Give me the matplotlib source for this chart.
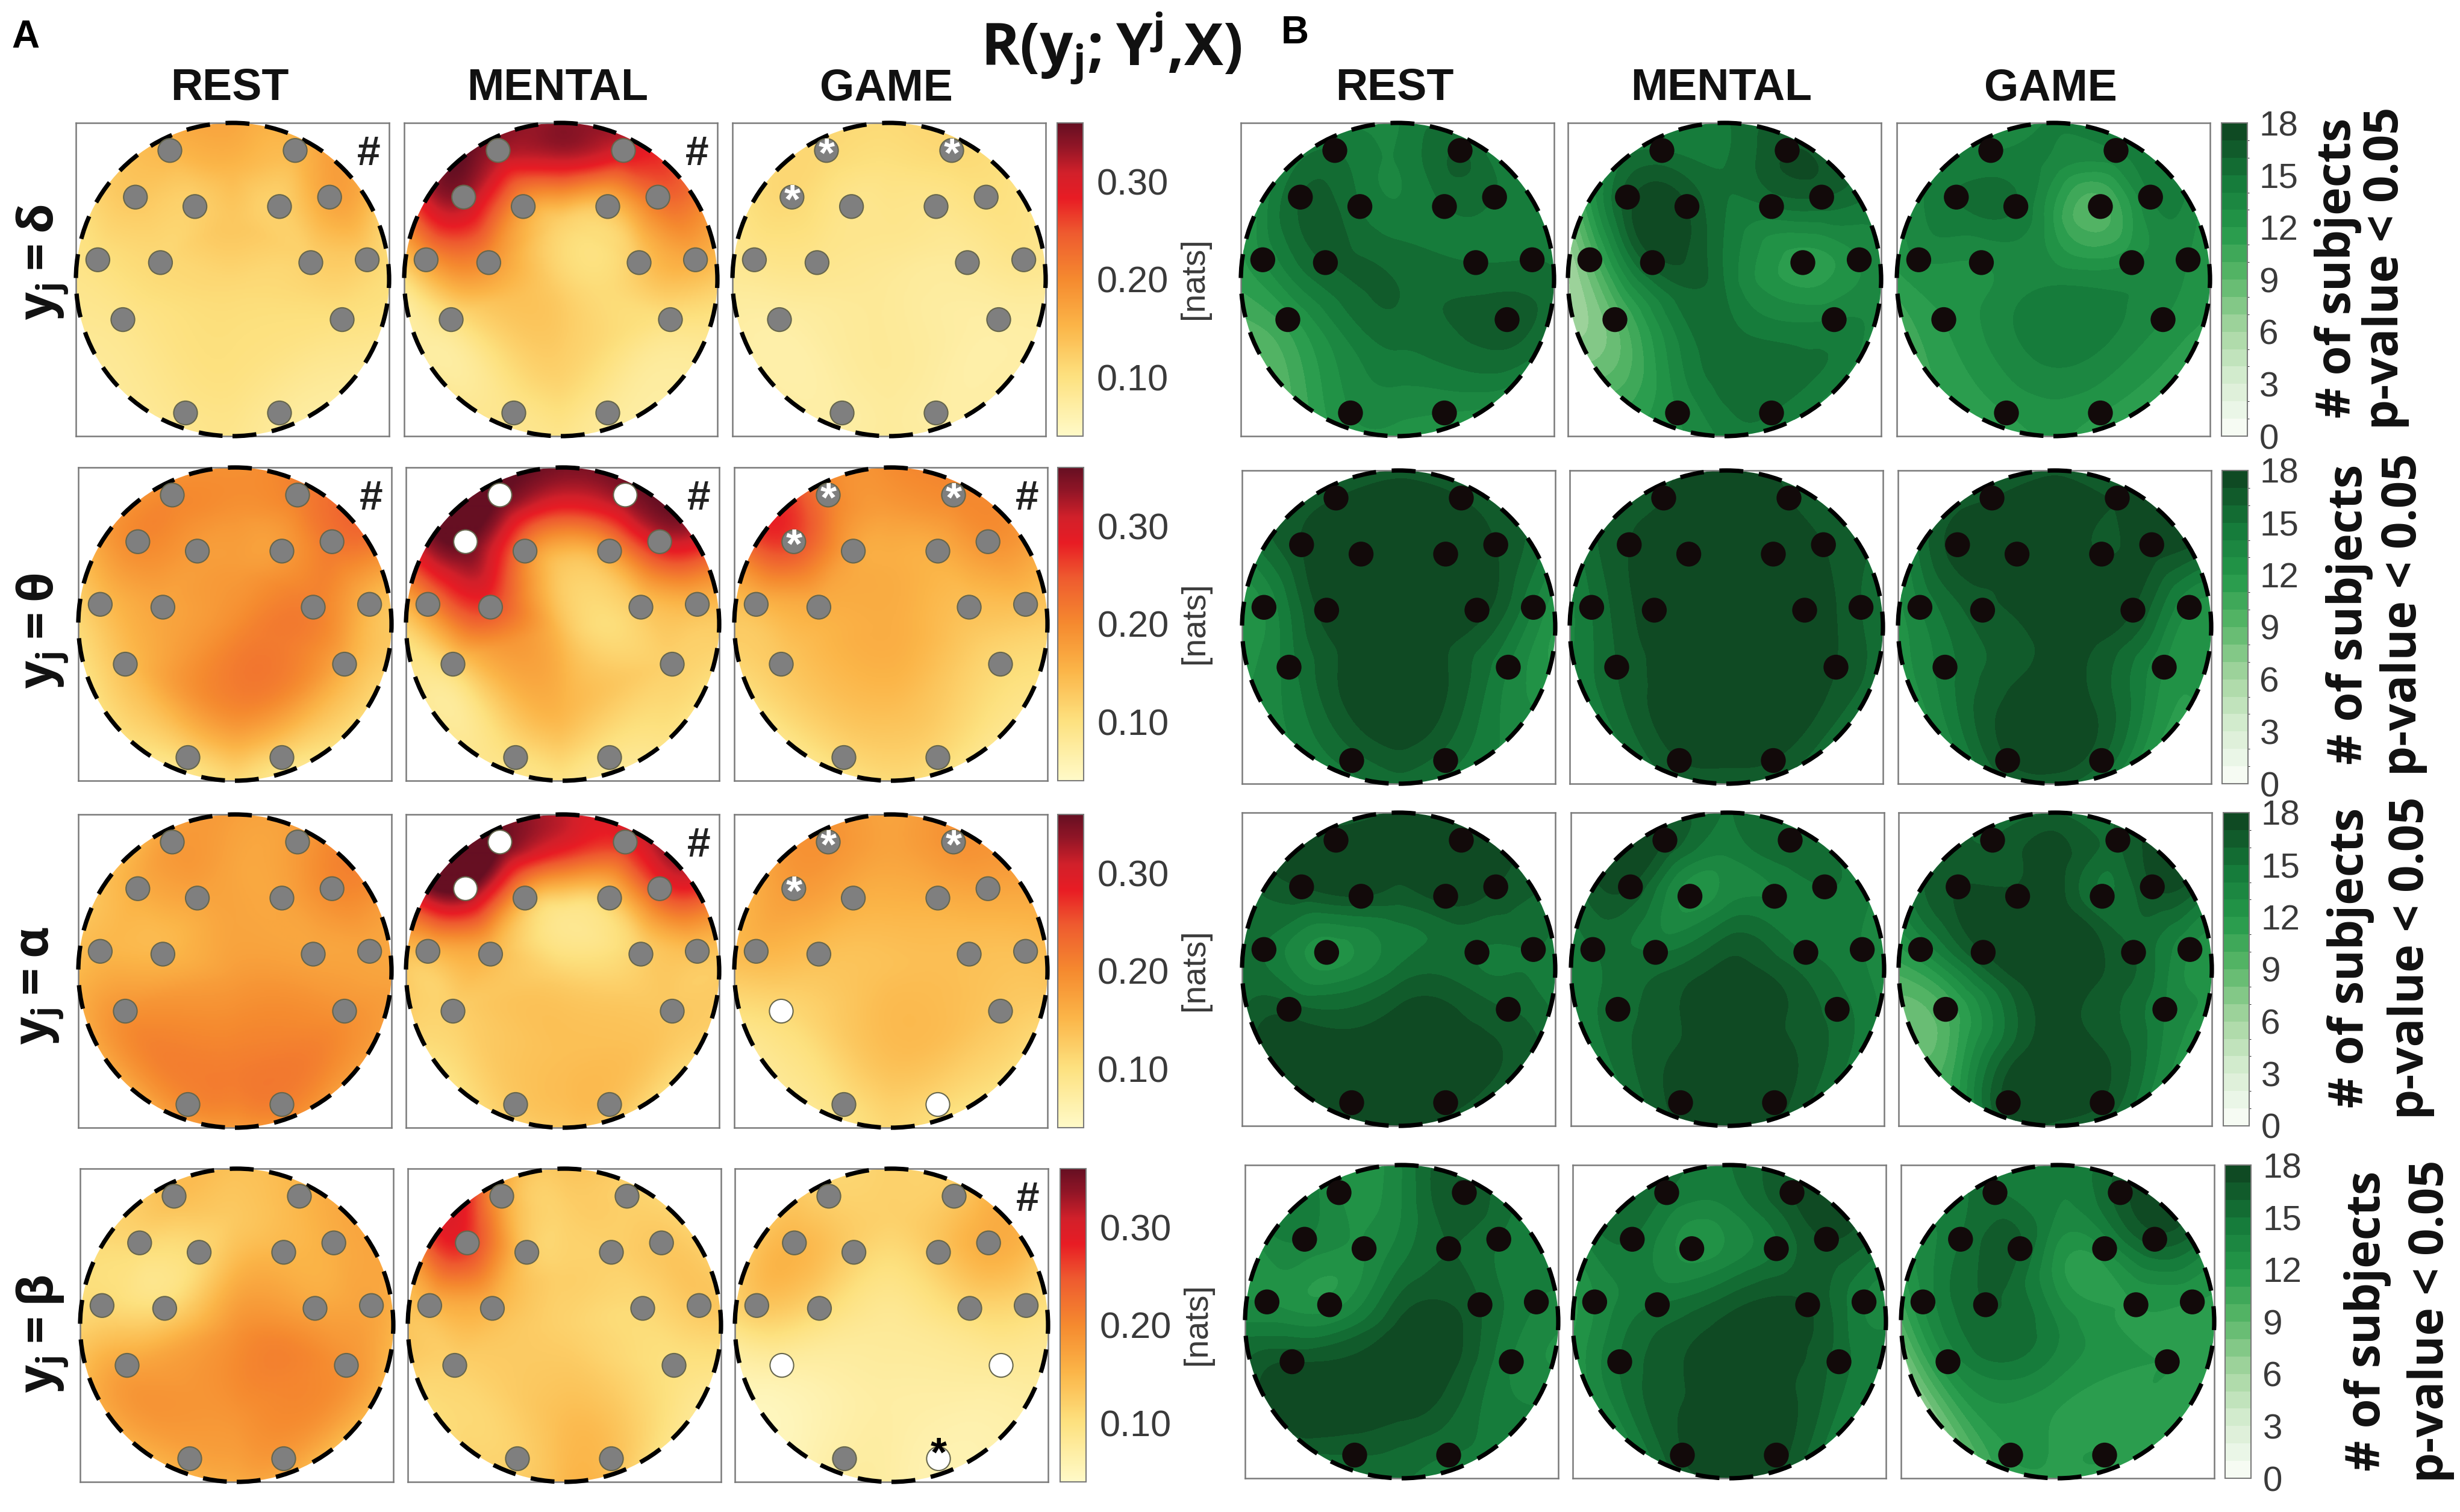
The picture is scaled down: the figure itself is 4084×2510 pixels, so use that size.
import matplotlib
matplotlib.use('Agg')
import matplotlib.pyplot as plt
import matplotlib.tri as tri
import numpy as np
from matplotlib.colors import LinearSegmentedColormap, BoundaryNorm, Normalize
from matplotlib.patches import Circle

W, H = 4084, 2510

plt.rcParams['font.family'] = ['Liberation Sans', 'DejaVu Sans']
plt.rcParams['mathtext.fontset'] = 'custom'
plt.rcParams['mathtext.rm'] = 'Open Sans:bold'
plt.rcParams['mathtext.it'] = 'Open Sans:bold'
plt.rcParams['mathtext.bf'] = 'Open Sans:bold'

# Electrodes AF3 AF4 F7 F8 F3 F4 T7 T8 FC5 FC6 P7 P8 O1 O2, in box fractions
ELEC_X = [.30, .70, .19, .81, .38, .65, .07, .93, .27, .75, .15, .85, .35, .65]
ELEC_Y = [.912, .912, .763, .763, .733, .733, .563, .563, .554, .554, .372, .372, .074, .074]

# Sample sites: 14 electrodes, 12 on the rim (clockwise from the top), 4 on the midline
RIM_ANGLES = [90, 60, 30, 0, -30, -60, -90, -120, -150, 180, 150, 120]
MID_Y = [.86, .68, .48, .22]

CONDITIONS = ['REST', 'MENTAL', 'GAME']
BANDS = ['δ', 'θ', 'α', 'β']

# Panel A, R(yj;Yj,X) in nats
R_DELTA_REST = [.15, .15, .13, .17, .12, .12, .10, .12, .11, .12, .09, .10, .09, .08,
                .17, .17, .13, .10, .08, .07, .09, .08, .08, .09, .11, .15, .15, .13, .11, .10]
R_DELTA_MENTAL = [.33, .30, .33, .23, .18, .14, .18, .16, .19, .13, .10, .10, .09, .08,
                  .33, .30, .20, .12, .08, .07, .09, .09, .08, .08, .28, .36, .29, .12, .12, .12]
R_DELTA_GAME = [.11, .11, .11, .10, .09, .09, .09, .09, .09, .08, .07, .07, .07, .07,
                .11, .11, .09, .08, .07, .07, .08, .07, .07, .08, .10, .11, .10, .09, .08, .08]
R_THETA_REST = [.20, .21, .20, .22, .18, .18, .14, .15, .17, .21, .14, .16, .11, .11,
                .19, .22, .22, .13, .10, .08, .10, .08, .09, .10, .16, .18, .19, .18, .20, .20]
R_THETA_MENTAL = [.36, .34, .36, .30, .21, .18, .20, .15, .26, .13, .12, .12, .10, .09,
                  .36, .36, .29, .13, .09, .08, .09, .09, .09, .11, .32, .36, .27, .13, .14, .15]
R_THETA_GAME = [.21, .20, .26, .19, .17, .16, .15, .14, .16, .14, .13, .11, .11, .11,
                .20, .20, .17, .12, .09, .08, .10, .08, .09, .13, .24, .23, .18, .16, .16, .14]
R_ALPHA_REST = [.18, .18, .16, .20, .17, .17, .15, .17, .15, .17, .19, .19, .20, .21,
                .18, .19, .19, .17, .17, .17, .16, .15, .15, .14, .13, .15, .17, .17, .18, .21]
R_ALPHA_MENTAL = [.36, .28, .36, .26, .16, .13, .15, .14, .15, .12, .12, .13, .13, .14,
                  .31, .33, .27, .13, .11, .10, .12, .10, .10, .14, .33, .36, .26, .09, .12, .14]
R_ALPHA_GAME = [.19, .19, .18, .17, .16, .16, .15, .14, .14, .14, .11, .13, .10, .11,
                .17, .19, .17, .14, .10, .09, .11, .08, .08, .13, .15, .19, .17, .15, .14, .14]
R_BETA_REST = [.14, .15, .11, .16, .11, .15, .11, .17, .11, .17, .17, .19, .17, .18,
               .14, .16, .17, .14, .14, .13, .15, .14, .15, .11, .11, .13, .13, .15, .19, .19]
R_BETA_MENTAL = [.17, .12, .27, .13, .13, .12, .15, .13, .15, .11, .12, .10, .12, .14,
                 .14, .11, .11, .12, .08, .10, .15, .12, .10, .14, .22, .24, .12, .12, .12, .14]
R_BETA_GAME = [.12, .13, .15, .16, .12, .13, .13, .11, .11, .11, .07, .08, .07, .06,
               .12, .14, .14, .09, .07, .06, .07, .06, .05, .09, .12, .12, .12, .10, .08, .07]

# Panel B, number of subjects with p-value < 0.05
N_DELTA_REST = [15, 16, 16, 15, 15, 15, 13, 15, 16, 15, 11.5, 16.5, 13, 13,
                14, 14, 14, 15, 14, 12, 12, 11, 8.5, 11, 12, 14, 14, 14.5, 16, 14.5]
N_DELTA_MENTAL = [15, 17, 16.5, 16, 17, 15, 9, 13, 16.5, 11.5, 9, 14, 13, 15,
                  15, 16, 15, 14, 13, 13, 14, 12, 8, 5, 10, 14, 15, 15, 15, 15.5]
N_DELTA_GAME = [14, 14, 15, 14, 15, 9.5, 13, 13, 13, 13, 12, 13, 12, 12,
                14, 14, 13, 12, 11, 11, 12, 11, 10, 11, 13, 14, 13.5, 12, 14, 14]
N_THETA_REST = [17, 17, 17, 17, 18, 18, 13, 14, 17.5, 17.5, 14.5, 14, 15.5, 15.5,
                16, 17, 15, 11, 13, 14, 15, 14, 13, 12, 15, 16, 18, 18, 18, 18]
N_THETA_MENTAL = [17, 17, 17, 17, 17.5, 18, 15, 16, 17.5, 18, 16, 17, 17, 17,
                  17, 17, 16, 15, 15, 15, 15, 15, 14, 13, 15, 17, 18, 18, 18, 18]
N_THETA_GAME = [17, 17, 17.5, 17.5, 17.5, 17, 14, 13, 16.5, 17, 14.5, 13, 17, 16,
                16, 17, 17, 13, 12, 12, 15, 14, 12, 12, 14, 16, 18, 18, 17.5, 18]
N_ALPHA_REST = [17.5, 17.5, 17, 17, 17, 17.5, 15, 15, 12.5, 15, 16.5, 16, 17.5, 17.5,
                17, 17, 16, 14, 16, 16, 17, 17, 17, 15, 16, 17, 17.5, 15.5, 15.5, 18]
N_ALPHA_MENTAL = [17, 16, 17, 15, 12.5, 14, 15, 14, 15, 15, 15.5, 15.5, 17.5, 17.5,
                  15, 15, 14, 13, 14, 15.5, 17.5, 15.5, 14, 14, 16, 17, 14, 14.5, 17.5, 17.5]
N_ALPHA_GAME = [16, 16, 17, 17, 17.5, 15, 13, 13, 17, 16, 10, 14, 17.5, 17,
                15, 17, 16, 13, 12, 14, 15, 13, 9, 10, 15, 16, 17.5, 18, 18, 18]
N_BETA_REST = [13, 17, 14, 15, 13, 16, 13, 14, 12.5, 16, 17, 14, 16, 15,
               14, 16, 15, 13, 14, 15, 15, 15, 16.5, 14, 13, 14, 14, 15, 17.5, 17.5]
N_BETA_MENTAL = [15, 17, 15, 17, 12.5, 15, 13, 14, 15, 17, 15, 15.5, 17, 17.5,
                 15, 17, 16, 14, 14, 15, 17, 14, 12, 11, 14, 16, 14, 14, 17.5, 17.5]
N_BETA_GAME = [15, 16.5, 15, 16.5, 16, 13, 13, 12, 16, 12, 13, 12, 12, 12,
               14, 17, 15, 12, 11, 11, 11, 9, 5, 8, 13, 15, 14, 12.5, 14, 12]

R_MAPS = [[R_DELTA_REST, R_DELTA_MENTAL, R_DELTA_GAME],
          [R_THETA_REST, R_THETA_MENTAL, R_THETA_GAME],
          [R_ALPHA_REST, R_ALPHA_MENTAL, R_ALPHA_GAME],
          [R_BETA_REST, R_BETA_MENTAL, R_BETA_GAME]]
N_MAPS = [[N_DELTA_REST, N_DELTA_MENTAL, N_DELTA_GAME],
          [N_THETA_REST, N_THETA_MENTAL, N_THETA_GAME],
          [N_ALPHA_REST, N_ALPHA_MENTAL, N_ALPHA_GAME],
          [N_BETA_REST, N_BETA_MENTAL, N_BETA_GAME]]

# (row, col) -> electrode indices
WHITE_DOTS = {(1, 1): [0, 1, 2], (2, 1): [0, 2], (2, 2): [10, 13], (3, 2): [10, 11, 13]}
STARS = {(0, 2): [0, 1, 2], (1, 2): [0, 1, 2], (2, 2): [0, 1, 2]}
HASHES = [(0, 0), (0, 1), (1, 0), (1, 1), (1, 2), (2, 1), (3, 2)]

# Pixel boxes of the reference: left edges of three maps, top, colorbar left
A_ROWS = [([126, 671, 1216], 204, 1755), ([130, 674, 1219], 776, 1756),
          ([130, 674, 1219], 1352, 1756), ([133, 677, 1220], 1940, 1760)]
B_ROWS = [([2060, 2603, 3149], 204, 3688), ([2062, 2606, 3151], 781, 3689),
          ([2062, 2608, 3152], 1349, 3691), ([2067, 2611, 3156], 1934, 3694)]
BOX = 520
CBAR_W = 43

reds = LinearSegmentedColormap.from_list('reds', [
    (0.0, '#fffac8'), (0.19, '#fde17f'), (0.35, '#fbb548'), (0.50, '#f58a2f'),
    (0.65, '#ee5a2f'), (0.76, '#e81c24'), (0.84, '#d2202a'), (0.93, '#8f1526'), (1.0, '#660f22')])
greens = LinearSegmentedColormap.from_list('greens', [
    (0.0, '#f6fbf3'), (1/6, '#d5ecd0'), (2/6, '#a5d6a0'), (3/6, '#5cb86a'),
    (4/6, '#25994a'), (5/6, '#157a3a'), (1.0, '#0f4a23')])
R_NORM = Normalize(0.04, 0.36)
N_LEVELS = np.arange(0, 19)
N_NORM = BoundaryNorm(N_LEVELS, greens.N)


def px_axes(fig, x, y, w, h):
    return fig.add_axes([x / W, 1 - (y + h) / H, w / W, h / H])


def build_triangulation():
    rim = np.deg2rad(RIM_ANGLES)
    xs = np.concatenate([ELEC_X, 0.5 + 0.54 * np.cos(rim), [0.5] * len(MID_Y)])
    ys = np.concatenate([ELEC_Y, 0.5 + 0.54 * np.sin(rim), MID_Y])
    return tri.Triangulation(xs, ys)


def head_axes(fig, x, y, triang, values):
    ax = px_axes(fig, x, y, BOX, BOX)
    ax.set_xlim(0, 1)
    ax.set_ylim(0, 1)
    ax.set_xticks([])
    ax.set_yticks([])
    for s in ax.spines.values():
        s.set_color('#7a7a7a')
        s.set_linewidth(1.8)
    interp = tri.CubicTriInterpolator(triang, values, kind='min_E')
    gx, gy = np.meshgrid(np.linspace(0, 1, 260), np.linspace(0, 1, 260))
    return ax, interp(gx, gy)


def finish_head(ax, dots, edge, star_list=()):
    ax.add_patch(Circle((.5, .5), .5, fill=False, ec='black', lw=5.2,
                        ls=(0, (5.5, 3.6)), clip_on=False, zorder=5))
    ax.scatter(ELEC_X, ELEC_Y, s=800, c=dots, edgecolors=edge, linewidths=1.5,
               zorder=6, clip_on=False)
    for i in star_list:
        ax.text(ELEC_X[i], ELEC_Y[i] - .016, '*', color='white', fontsize=50, fontweight='bold',
                ha='center', va='center', zorder=7)


fig = plt.figure(figsize=(W / 100, H / 100), dpi=100)
triang = build_triangulation()

for r in range(4):
    xs, top, cx = A_ROWS[r]
    for c in range(3):
        ax, z = head_axes(fig, xs[c], top, triang, R_MAPS[r][c])
        im = ax.imshow(np.clip(z, 0.04, 0.36), origin='lower', extent=(0, 1, 0, 1), cmap=reds,
                       norm=R_NORM, interpolation='bilinear', aspect='auto')
        im.set_clip_path(Circle((.5, .5), .5, transform=ax.transData))
        dots = ['#7f7f7f'] * 14
        for i in WHITE_DOTS.get((r, c), []):
            dots[i] = 'white'
        finish_head(ax, dots, '#66664d', STARS.get((r, c), ()))
        if (r, c) == (3, 2):
            ax.text(ELEC_X[13], ELEC_Y[13] + .012, '*', color='black', fontsize=50,
                    fontweight='bold', ha='center', va='center', zorder=7)
        if (r, c) in HASHES:
            ax.text(.935, .90, '#', fontsize=50, fontweight='bold', color='#222222',
                    ha='center', va='center', zorder=7)
    cax = px_axes(fig, cx, top, CBAR_W, BOX)
    cb = fig.colorbar(im, cax=cax, ticks=[.10, .20, .30], format='%.2f')
    cb.ax.tick_params(length=0, labelsize=44, labelcolor='#3a3a3a', pad=16)
    cb.outline.set_edgecolor('#7a7a7a')
    cb.outline.set_linewidth(1.5)
    fig.text((cx + 228) / W, 1 - (top + 258) / H, '[nats]', rotation=90, fontsize=40,
             color='#3a3a3a', ha='center', va='center')

for r in range(4):
    xs, top, cx = B_ROWS[r]
    for c in range(3):
        ax, z = head_axes(fig, xs[c], top, triang, N_MAPS[r][c])
        cs = ax.contourf(np.linspace(0, 1, 260), np.linspace(0, 1, 260), z, levels=N_LEVELS,
                         cmap=greens, norm=N_NORM, extend='both')
        cs.set_clip_path(Circle((.5, .5), .5, transform=ax.transData))
        finish_head(ax, ['#120a0a'] * 14, '#120a0a')
    cax = px_axes(fig, cx, top, CBAR_W, BOX)
    sm = plt.cm.ScalarMappable(norm=N_NORM, cmap=greens)
    cb = fig.colorbar(sm, cax=cax, ticks=[0, 3, 6, 9, 12, 15, 18], spacing='proportional')
    cb.ax.minorticks_off()
    cb.ax.tick_params(length=0, labelsize=42, labelcolor='#3a3a3a', pad=14)
    cb.outline.set_edgecolor('#7a7a7a')
    cb.outline.set_linewidth(1.5)

# Condition headers
for xs, in [(A_ROWS[0][0],), (B_ROWS[0][0],)]:
    for x, name in zip(xs, CONDITIONS):
        fig.text((x + BOX / 2 - 5) / W, 1 - 147 / H, name, fontsize=53, fontweight='bold',
                 ha='center', va='center', color='#111111')

fig.text(42 / W, 1 - 62 / H, 'A', fontsize=46, fontweight='bold', ha='center', va='center')
fig.text(2150 / W, 1 - 55 / H, 'B', fontsize=46, fontweight='bold', ha='center', va='center')
fig.text(1845 / W, 1 - 80 / H, r'$\mathrm{R(y_j{;}Y^j{,}X)}$', fontsize=70, ha='center', va='center',
         color='#111111')

# Row labels for panel A
for y, band in zip([435, 1047, 1636, 2214], BANDS):
    fig.text(70 / W, 1 - y / H, r'$\mathrm{y_j=%s}$' % band, rotation=90, fontsize=58,
             ha='center', va='center', color='#111111')

# Colorbar titles for panel B
SUBJ_X = [3881, 3900, 3902, 3930]
PVAL_X = [3960, 3990, 4002, 4035]
LABEL_Y = [445, 1020, 1590, 2193]
for x1, x2, y in zip(SUBJ_X, PVAL_X, LABEL_Y):
    fig.text(x1 / W, 1 - y / H, '# of subjects', rotation=90, fontsize=57, family='Open Sans',
             fontweight='bold', ha='center', va='center', color='#111111')
    fig.text(x2 / W, 1 - y / H, 'p-value < 0.05', rotation=90, fontsize=57, family='Open Sans',
             fontweight='bold', ha='center', va='center', color='#111111')

fig.savefig('out.png', dpi=100)
